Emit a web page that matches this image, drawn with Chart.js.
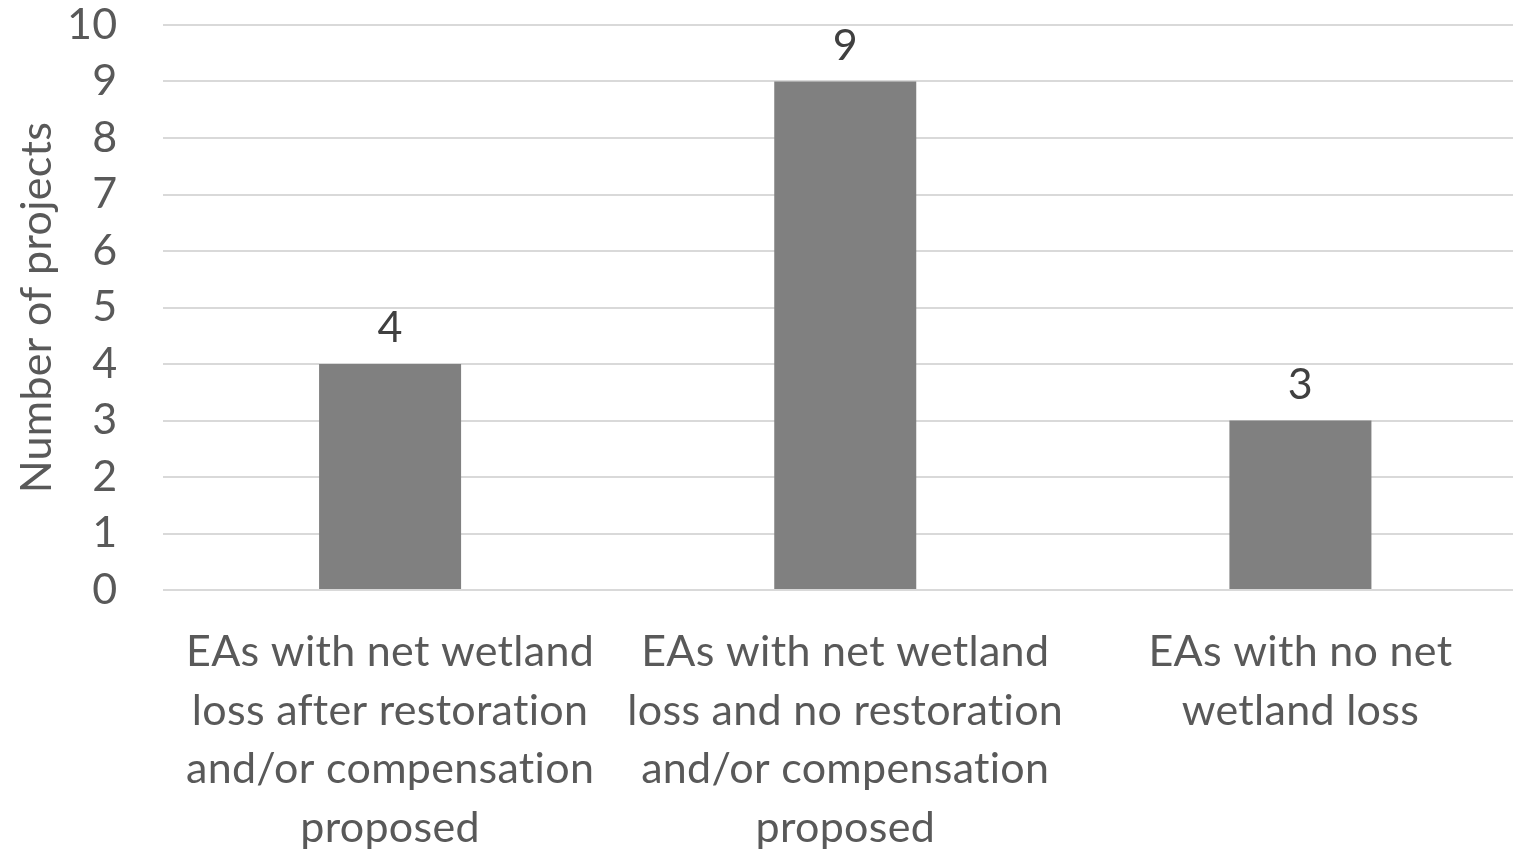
<!DOCTYPE html>
<html>
<head>
<meta charset="utf-8">
<script src="https://cdn.jsdelivr.net/npm/chart.js@4"></script>
<style>
html,body{margin:0;padding:0;background:#fff;overflow:hidden;}
#wrap{width:1528px;height:855px;position:relative;}
</style>
</head>
<body>
<div id="wrap"><canvas id="c"></canvas></div>
<script>
const categories = [
  ["EAs with net wetland", "loss after restoration", "and/or compensation", "proposed"],
  ["EAs with net wetland", "loss and no restoration", "and/or compensation", "proposed"],
  ["EAs with no net", "wetland loss"]
];
const projectCounts = [4, 9, 3];
const yTicks = [0, 1, 2, 3, 4, 5, 6, 7, 8, 9, 10];
const yTitle = "Number of projects";

const FONT = "Lato, 'Open Sans', sans-serif";
const TEXT = "#595959";

const noLigatures = {
  id: 'noLigatures',
  beforeDraw(chart) { try { chart.ctx.letterSpacing = '0.3px'; } catch (e) {} }
};

const valueLabels = {
  id: 'valueLabels',
  afterDatasetsDraw(chart) {
    const ctx = chart.ctx;
    const meta = chart.getDatasetMeta(0);
    ctx.save();
    ctx.font = "43px " + FONT;
    ctx.fillStyle = '#404040';
    ctx.textAlign = 'center';
    ctx.textBaseline = 'bottom';
    meta.data.forEach((bar, i) => {
      ctx.fillText(String(chart.data.datasets[0].data[i]), bar.x, bar.y - 14);
    });
    ctx.restore();
  }
};

new Chart(document.getElementById('c'), {
  type: 'bar',
  data: {
    labels: categories,
    datasets: [{
      data: projectCounts,
      backgroundColor: '#808080',
      borderWidth: 0,
      barPercentage: 1,
      categoryPercentage: 0.312
    }]
  },
  options: {
    responsive: true,
    maintainAspectRatio: false,
    animation: false,
    layout: { padding: { top: 25, left: 11, right: 0, bottom: 0 } },
    plugins: { legend: { display: false }, tooltip: { enabled: false } },
    scales: {
      x: {
        grid: { display: false, drawTicks: false },
        border: { display: false },
        afterFit(scale) { scale.height = 265; scale.paddingLeft = 0; scale.paddingRight = 0; },
        ticks: {
          color: TEXT,
          font: { family: FONT, size: 43, lineHeight: 1.36 },
          maxRotation: 0, minRotation: 0, autoSkip: false,
          padding: 33
        }
      },
      y: {
        min: 0, max: 10,
        afterBuildTicks(scale) { scale.ticks = yTicks.map(v => ({ value: v })); },
        afterFit(scale) { scale.width = 151.5; scale.paddingTop = 0; scale.paddingBottom = 0; },
        grid: { color: '#d9d9d9', lineWidth: 2, drawTicks: false },
        border: { display: false },
        ticks: {
          color: TEXT,
          font: { family: FONT, size: 43 },
          padding: 45,
          autoSkip: false
        },
        title: {
          display: true,
          text: yTitle,
          color: TEXT,
          font: { family: FONT, size: 43 },
          padding: { top: 0, bottom: 20 }
        }
      }
    }
  },
  plugins: [noLigatures, valueLabels]
});
</script>
</body>
</html>
